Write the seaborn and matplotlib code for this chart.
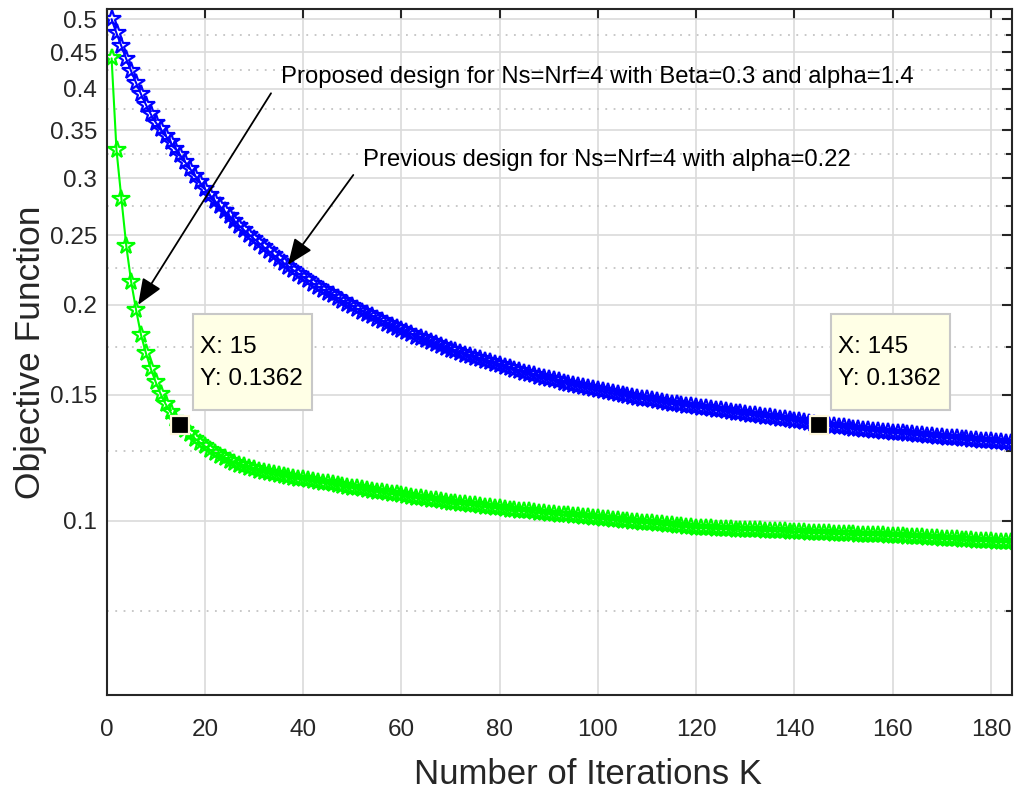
import matplotlib
matplotlib.use("Agg")
import matplotlib.pyplot as plt
from matplotlib.ticker import NullFormatter
from matplotlib.patches import Rectangle
import pandas as pd
import seaborn as sns

# ---- data -------------------------------------------------------------
iterations = list(range(1, 186))

previous_design = [
    0.5000, 0.4780, 0.4585, 0.4400, 0.4230, 0.4075, 0.3930, 0.3800, 0.3685, 0.3590,
    0.3515, 0.3440, 0.3368, 0.3298, 0.3230, 0.3160, 0.3093, 0.3028, 0.2963, 0.2900,
    0.2845, 0.2793, 0.2745, 0.2700, 0.2657, 0.2616, 0.2577, 0.2540, 0.2505, 0.2471,
    0.2438, 0.2406, 0.2375, 0.2345, 0.2316, 0.2288, 0.2261, 0.2235, 0.2210, 0.2186,
    0.2163, 0.2141, 0.2120, 0.2100, 0.2081, 0.2062, 0.2044, 0.2026, 0.2008, 0.1991,
    0.1974, 0.1958, 0.1942, 0.1927, 0.1912, 0.1897, 0.1883, 0.1869, 0.1856, 0.1843,
    0.1831, 0.1819, 0.1807, 0.1796, 0.1785, 0.1774, 0.1763, 0.1753, 0.1743, 0.1733,
    0.1723, 0.1714, 0.1705, 0.1696, 0.1687, 0.1679, 0.1671, 0.1663, 0.1655, 0.1647,
    0.1639, 0.1631, 0.1624, 0.1617, 0.1610, 0.1603, 0.1596, 0.1589, 0.1583, 0.1577,
    0.1571, 0.1565, 0.1559, 0.1553, 0.1547, 0.1541, 0.1536, 0.1531, 0.1526, 0.1521,
    0.1516, 0.1511, 0.1506, 0.1501, 0.1497, 0.1493, 0.1489, 0.1485, 0.1481, 0.1477,
    0.1473, 0.1469, 0.1465, 0.1461, 0.1457, 0.1454, 0.1451, 0.1448, 0.1445, 0.1442,
    0.1439, 0.1436, 0.1432, 0.1429, 0.1426, 0.1423, 0.1420, 0.1416, 0.1413, 0.1410,
    0.1407, 0.1404, 0.1401, 0.1398, 0.1395, 0.1392, 0.1389, 0.1386, 0.1383, 0.1380,
    0.1377, 0.1374, 0.1370, 0.1366, 0.1362, 0.1360, 0.1357, 0.1355, 0.1352, 0.1350,
    0.1348, 0.1345, 0.1343, 0.1341, 0.1339, 0.1336, 0.1334, 0.1332, 0.1330, 0.1328,
    0.1326, 0.1324, 0.1322, 0.1320, 0.1318, 0.1316, 0.1314, 0.1312, 0.1310, 0.1308,
    0.1306, 0.1304, 0.1303, 0.1301, 0.1299, 0.1297, 0.1296, 0.1294, 0.1292, 0.1291,
    0.1289, 0.1288, 0.1286, 0.1285, 0.1283,
]

proposed_design = [
    0.4410, 0.3285, 0.2810, 0.2414, 0.2150, 0.1966, 0.1815, 0.1712, 0.1628, 0.1560,
    0.1502, 0.1455, 0.1418, 0.1388, 0.1362, 0.1340, 0.1320, 0.1302, 0.1286, 0.1270,
    0.1256, 0.1244, 0.1233, 0.1223, 0.1214, 0.1206, 0.1198, 0.1191, 0.1185, 0.1180,
    0.1175, 0.1170, 0.1166, 0.1162, 0.1158, 0.1155, 0.1152, 0.1149, 0.1146, 0.1143,
    0.1140, 0.1137, 0.1134, 0.1131, 0.1128, 0.1125, 0.1122, 0.1119, 0.1116, 0.1113,
    0.1110, 0.1107, 0.1104, 0.1102, 0.1099, 0.1096, 0.1094, 0.1091, 0.1089, 0.1086,
    0.1083, 0.1081, 0.1078, 0.1076, 0.1073, 0.1071, 0.1068, 0.1066, 0.1063, 0.1061,
    0.1059, 0.1057, 0.1055, 0.1053, 0.1051, 0.1049, 0.1047, 0.1045, 0.1043, 0.1041,
    0.1039, 0.1037, 0.1036, 0.1034, 0.1032, 0.1031, 0.1029, 0.1027, 0.1026, 0.1024,
    0.1023, 0.1021, 0.1020, 0.1018, 0.1017, 0.1015, 0.1014, 0.1012, 0.1011, 0.1009,
    0.1007, 0.1006, 0.1004, 0.1003, 0.1001, 0.1000, 0.0998, 0.0996, 0.0995, 0.0993,
    0.0992, 0.0990, 0.0989, 0.0987, 0.0986, 0.0985, 0.0983, 0.0982, 0.0981, 0.0979,
    0.0978, 0.0978, 0.0977, 0.0976, 0.0976, 0.0975, 0.0974, 0.0973, 0.0973, 0.0972,
    0.0971, 0.0971, 0.0970, 0.0969, 0.0969, 0.0968, 0.0967, 0.0967, 0.0966, 0.0965,
    0.0965, 0.0964, 0.0963, 0.0963, 0.0962, 0.0962, 0.0961, 0.0960, 0.0960, 0.0959,
    0.0958, 0.0958, 0.0957, 0.0957, 0.0956, 0.0956, 0.0955, 0.0955, 0.0954, 0.0953,
    0.0953, 0.0952, 0.0951, 0.0950, 0.0949, 0.0949, 0.0948, 0.0947, 0.0946, 0.0945,
    0.0944, 0.0944, 0.0943, 0.0942, 0.0941, 0.0940, 0.0939, 0.0939, 0.0938, 0.0937,
    0.0936, 0.0935, 0.0935, 0.0934, 0.0933,
]

x_ticks = [0, 20, 40, 60, 80, 100, 120, 140, 160, 180]
y_ticks = [0.1, 0.15, 0.2, 0.25, 0.3, 0.35, 0.4, 0.45, 0.5]
y_tick_labels = ["0.1", "0.15", "0.2", "0.25", "0.3", "0.35", "0.4", "0.45", "0.5"]
y_minor_ticks = [0.075, 0.125, 0.175, 0.225, 0.275, 0.325, 0.375, 0.425, 0.475]

tip_proposed_iter = 15
tip_previous_iter = 145

label_proposed = "Proposed design for Ns=Nrf=4 with Beta=0.3 and alpha=1.4"
label_previous = "Previous design for Ns=Nrf=4 with alpha=0.22"

# ---- style ------------------------------------------------------------
sns.set_style("white")
plt.rcParams["font.family"] = ["Liberation Sans", "DejaVu Sans"]
axis_color = "#262626"

fig = plt.figure(figsize=(10.16, 7.95), dpi=100)
ax = fig.add_axes([0.1050, 0.1258, 0.8907, 0.8623])

df_prev = pd.DataFrame({"K": iterations, "obj": previous_design})
df_prop = pd.DataFrame({"K": iterations, "obj": proposed_design})

line_kw = dict(marker="*", markersize=13, markerfacecolor="none",
               markeredgewidth=1.6, linewidth=1.5, estimator=None,
               sort=False, legend=False, ax=ax)
sns.lineplot(data=df_prev, x="K", y="obj", color="#0000ff",
             markeredgecolor="#0000ff", **line_kw)
sns.lineplot(data=df_prop, x="K", y="obj", color="#00ff00",
             markeredgecolor="#00ff00", **line_kw)

# ---- axes -------------------------------------------------------------
ax.set_yscale("log")
ax.set_xlim(0, 184.2)
ax.set_ylim(0.05723, 0.5159)
ax.set_xticks(x_ticks)
ax.set_xticklabels([str(v) for v in x_ticks])
ax.set_yticks(y_ticks)
ax.set_yticklabels(y_tick_labels)
ax.set_yticks(y_minor_ticks, minor=True)
ax.yaxis.set_minor_formatter(NullFormatter())

ax.set_axisbelow(True)
ax.grid(which="major", axis="both", color="#dadada", linewidth=1.2, linestyle="-")
ax.grid(which="minor", axis="y", color="#c4c4c4", linewidth=1.3,
        linestyle=(0, (1, 3.6)))

ax.tick_params(which="both", direction="in", top=True, right=True,
               color=axis_color, width=1.5, labelcolor=axis_color)
ax.tick_params(which="major", length=7, labelsize=17.5)
ax.tick_params(which="minor", length=4)
ax.tick_params(axis="x", which="major", pad=17)
ax.tick_params(axis="y", which="major", pad=7)
for sp in ax.spines.values():
    sp.set_color(axis_color)
    sp.set_linewidth(1.5)

ax.set_xlabel("Number of Iterations K", fontsize=25, color=axis_color)
ax.set_ylabel("Objective Function", fontsize=25.5, color=axis_color)
ax.xaxis.set_label_coords(0.532, -0.092)
ax.yaxis.set_label_coords(-0.066, 0.5)

# ---- annotations ------------------------------------------------------
arrow_kw = dict(arrowstyle="-|>,head_length=1.6,head_width=0.65",
                color="black", lw=1.3, shrinkA=0, shrinkB=0)
ax.annotate("", xy=(6.4, 0.2), xytext=(33.45, 0.3943), arrowprops=arrow_kw)
ax.annotate("", xy=(36.9, 0.2274), xytext=(50.2, 0.3034), arrowprops=arrow_kw)
ax.text(35.5, 0.4156, label_proposed, fontsize=17.2, va="center", ha="left",
        color="black")
ax.text(52.2, 0.3183, label_previous, fontsize=17.2, va="center", ha="left",
        color="black")

# ---- data tips --------------------------------------------------------
tips = [
    (tip_proposed_iter, proposed_design[tip_proposed_iter - 1], 0.0954, 0.1031),
    (tip_previous_iter, previous_design[tip_previous_iter - 1], 0.8004, 0.8081),
]
for k, v, box_x, text_x in tips:
    ax.add_patch(Rectangle((box_x, 0.4158), 0.1312, 0.140, transform=ax.transAxes,
                           facecolor="#ffffe6", edgecolor="#c8c8c8", lw=1.5,
                           zorder=5))
    ax.text(text_x, 0.508, f"X: {k}", transform=ax.transAxes, fontsize=17.5,
            va="center", ha="left", color="black", zorder=6)
    ax.text(text_x, 0.4610, f"Y: {v:.4f}", transform=ax.transAxes, fontsize=17.5,
            va="center", ha="left", color="black", zorder=6)
    ax.plot([k], [v], marker="s", markersize=13, color="black",
            markeredgecolor="#fff8dc", markeredgewidth=1.6, zorder=7,
            linestyle="none")

fig.savefig("out.png", dpi=100)
